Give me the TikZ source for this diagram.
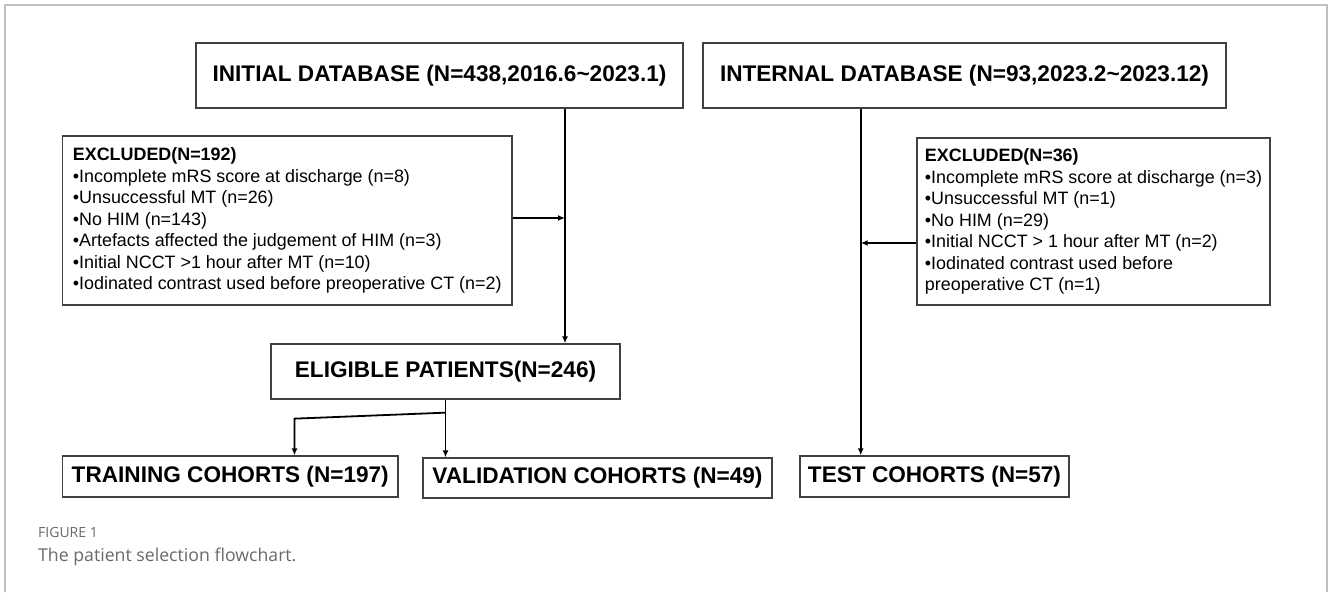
\documentclass[tikz,border=0pt]{standalone}
\usepackage{fontspec}
\setmainfont{Liberation Sans}
\newfontfamily\capfont{Open Sans}
\usepackage{xcolor}
\usetikzlibrary{arrows.meta}
\usetikzlibrary{calc}

\definecolor{boxgray}{RGB}{64,64,64}
\definecolor{framegray}{RGB}{192,192,192}
\definecolor{capgray}{RGB}{105,105,105}

\begin{document}
\begin{tikzpicture}[x=1pt,y=-1pt,
        headbox/.style={draw=boxgray,line width=1.3pt,inner sep=0pt,font=\bfseries\fontsize{22.6}{27}\selectfont},
        listbox/.style={draw=boxgray,line width=1.3pt,inner sep=0pt,align=left,font=\fontsize{17.9}{21.5}\selectfont},
        flow/.style={line width=1.8pt,-{Latex[length=7pt,width=6pt]}},
        caption/.style={anchor=base west,inner sep=0pt,text=capgray}]
        \useasboundingbox (0,0) rectangle (1328,592);
        \draw[framegray,line width=1.6pt] (4.7,592) -- (4.7,5) -- (1327,5) -- (1327,592);

        \node[headbox,minimum width=487pt,minimum height=65pt] (initdb) at (439.5,75.5) {INITIAL DATABASE (N=438,2016.6\textasciitilde2023.1)};
        \node[headbox,minimum width=523pt,minimum height=65pt] (intdb) at (964.5,75.5) {INTERNAL DATABASE (N=93,2023.2\textasciitilde2023.12)};

        \node[listbox,minimum width=449.5pt,minimum height=169pt] (exl) at (287.25,220.5) {\textbf{EXCLUDED(N=192)}\\
            \textbullet Incomplete mRS score at discharge (n=8)\\
            \textbullet Unsuccessful MT (n=26)\\
            \textbullet No HIM (n=143)\\
            \textbullet Artefacts affected the judgement of HIM (n=3)\\
            \textbullet Initial NCCT >1 hour after MT (n=10)\\
            \textbullet Iodinated contrast used before preoperative CT (n=2)};
        \node[listbox,minimum width=353pt,minimum height=167pt] (exr) at (1093.5,221.5) {\textbf{EXCLUDED(N=36)}\\
            \textbullet Incomplete mRS score at discharge (n=3)\\
            \textbullet Unsuccessful MT (n=1)\\
            \textbullet No HIM (n=29)\\
            \textbullet Initial NCCT > 1 hour after MT (n=2)\\
            \textbullet Iodinated contrast used before\\
            preoperative CT (n=1)};

        \node[headbox,minimum width=349pt,minimum height=55pt] (elig) at (445.5,371.5) {ELIGIBLE PATIENTS(N=246)};
        \node[headbox,minimum width=335.5pt,minimum height=41pt] (train) at (230.25,476.5) {TRAINING COHORTS (N=197)};
        \node[headbox,minimum width=349pt,minimum height=40pt] (valid) at (597.5,478) {VALIDATION COHORTS (N=49)};
        \node[headbox,minimum width=269pt,minimum height=41pt] (test) at (934.5,476.5) {TEST COHORTS (N=57)};

        \coordinate (ltrunk) at ([xshift=125.5pt]initdb.south);
        \coordinate (rtrunk) at ([xshift=-103.8pt]intdb.south);
        \draw[flow] (ltrunk) -- (ltrunk |- elig.north);
        \draw[flow] ([yshift=2.5pt]exl.east) coordinate (larr) -- (larr -| ltrunk);
        \draw[flow] (rtrunk) -- (rtrunk |- test.north);
        \draw[flow] ([yshift=-21.5pt]exr.west) coordinate (rarr) -- (rarr -| rtrunk);

        \draw[flow] (elig.south) -- (elig.south |- valid.north);
        \draw[flow] ([yshift=-13pt]elig.south) -- ++(-151,6) coordinate (bend) -- (bend |- train.north);

        \node[caption,font=\capfont\fontsize{14}{16}\selectfont] (figlab) at (38,537.3) {FIGURE 1};
        \node[caption,font=\capfont\fontsize{17.7}{20}\selectfont] (figcap) at (38,561.7) {The patient selection flowchart.};
\end{tikzpicture}
\end{document}
